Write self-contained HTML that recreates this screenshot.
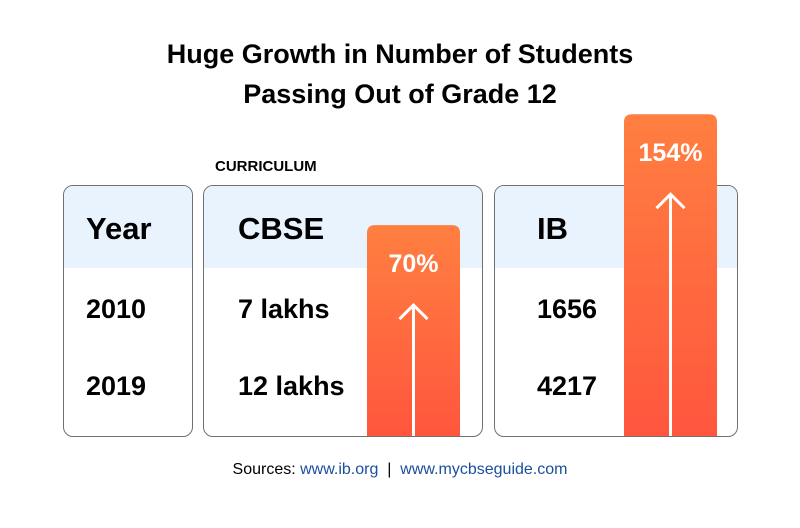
<!DOCTYPE html>
<html><head><meta charset="utf-8"><style>
body{margin:0;width:800px;height:528px;background:#fff;font-family:"Liberation Sans",sans-serif;overflow:hidden;position:relative}
.abs{position:absolute}
.card{position:absolute;top:185px;height:250px;border:1px solid #707070;border-radius:10px;overflow:hidden;background:#fff}
.hdr{position:absolute;left:0;right:0;top:0;height:82px;background:#e8f3fd}
.t{position:absolute;font-weight:bold;color:#000;white-space:nowrap}
.h{font-size:31px;top:25px}
.v{font-size:27px}
a{color:#1a4fa0}
</style></head><body>
<div class="abs" style="left:0;width:800px;top:34px;text-align:center;font-size:27px;font-weight:bold;line-height:40px">Huge Growth in Number of Students<br>Passing Out of Grade 12</div>
<div class="abs" style="left:215px;top:158px;font-size:15px;font-weight:bold">CURRICULUM</div>

<div class="card" style="left:63px;width:128px"><div class="hdr"></div>
<div class="t h" style="left:22px">Year</div>
<div class="t v" style="left:22px;top:108px">2010</div>
<div class="t v" style="left:22px;top:185px">2019</div></div>

<div class="card" style="left:203px;width:278px"><div class="hdr"></div>
<div class="t h" style="left:34px">CBSE</div>
<div class="t v" style="left:34px;top:108px">7 lakhs</div>
<div class="t v" style="left:34px;top:185px">12 lakhs</div></div>

<div class="card" style="left:494px;width:242px"><div class="hdr"></div>
<div class="t h" style="left:42px">IB</div>
<div class="t v" style="left:42px;top:108px">1656</div>
<div class="t v" style="left:42px;top:185px">4217</div></div>

<svg class="abs" style="left:0;top:0" width="800" height="528">
<defs><linearGradient id="g" x1="0" y1="0" x2="0" y2="1"><stop offset="0" stop-color="#ff7f40"/><stop offset="1" stop-color="#ff563e"/></linearGradient></defs>
<g id="bars"></g></svg>

<div class="abs" style="left:0;width:800px;top:461px;text-align:center;font-size:16px">Sources: <a>www.ib.org</a> &nbsp;|&nbsp; <a>www.mycbseguide.com</a></div>
<script>
const categories=["CBSE","IB"];
const growth=[70,154];
const barX=[367,624];
const baseY=436;
function y(v){return baseY-(118.5+1.32*v);}
const g=document.getElementById('bars');
const ns="http://www.w3.org/2000/svg";
categories.forEach((c,i)=>{
 const top=y(growth[i]),x=barX[i],w=93;
 const p=document.createElementNS(ns,'path');
 p.setAttribute('d',`M${x} ${baseY}V${top+8}Q${x} ${top} ${x+8} ${top}H${x+w-8}Q${x+w} ${top} ${x+w} ${top+8}V${baseY}Z`);
 p.setAttribute('fill','url(#g)');
 
 
 g.appendChild(p);
 const t=document.createElementNS(ns,'text');
 t.setAttribute('x',x+w/2);t.setAttribute('y',top+47);
 t.setAttribute('text-anchor','middle');t.setAttribute('fill','#fff');
 t.setAttribute('font-size','25');t.setAttribute('font-weight','bold');
 t.setAttribute('font-family','Liberation Sans, sans-serif');
 t.textContent=growth[i]+'%';
 
 
 g.appendChild(t);
 const cx=x+w/2,ay=top+80;
 const a=document.createElementNS(ns,'path');
 a.setAttribute('d',`M${cx} ${baseY}V${ay}M${cx-14} ${ay+14}L${cx} ${ay}L${cx+14} ${ay+14}`);
 a.setAttribute('stroke','#fff');a.setAttribute('stroke-width','3');a.setAttribute('fill','none');
 
 
 g.appendChild(a);
});
</script>
</body></html>
